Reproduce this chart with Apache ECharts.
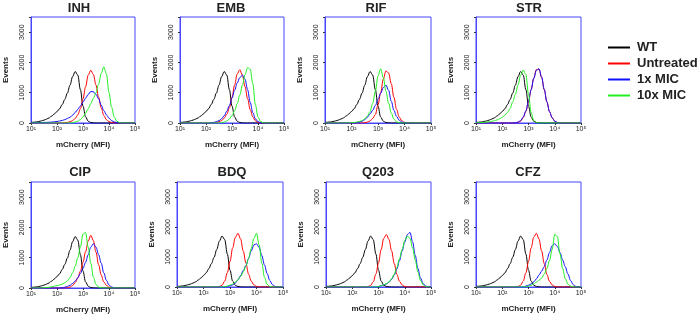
<!DOCTYPE html>
<html>
<head>
<meta charset="utf-8">
<script src="https://cdn.jsdelivr.net/npm/echarts@6/dist/echarts.min.js"></script>
<style>html,body{margin:0;padding:0;background:#fff}#c{width:700px;height:318px}</style>
</head>
<body>
<div id="c"></div>
<script>
// ---- data ----
const binExp = [1.0,1.1,1.2,1.3,1.4,1.5,1.6,1.7,1.8,1.9,
                2.0,2.1,2.2,2.3,2.4,2.5,2.6,2.7,2.8,2.9,
                3.0,3.1,3.2,3.3,3.4,3.5,3.6,3.7,3.8,3.9,
                4.0,4.1,4.2,4.3,4.4,4.5,4.6,4.7,4.8,4.9,
                5.0];
const panels = ['INH','EMB','RIF','STR','CIP','BDQ','Q203','CFZ'];
const seriesNames = ['WT','Untreated','1x MIC','10x MIC'];
const yTicks = [0,1000,2000,3000];
const xTickLabels = ['10¹','10²','10³','10⁴','10⁵'];

const wt = [20,25,35,50,70,95,130,170,230,300, 380,470,610,780,990,1250,1530,1700,1580,1100, 560,200,60,15,5,0,0,0,0,0, 0,0,0,0,0,0,0,0,0,0, 0];

const inhUntreated = [0,0,0,0,0,0,0,0,0,0, 0,0,5,10,20,40,80,150,270,470, 800,1200,1580,1740,1600,1250,850,500,250,110, 45,15,5,0,0,0,0,0,0,0, 0];
const inh1x = [10,10,10,15,15,20,20,25,30,40, 50,65,85,110,150,190,260,350,450,560, 690,820,940,1040,1030,950,800,590,410,270, 160,80,35,15,5,0,0,0,0,0, 0];
const inh10x = [0,0,0,0,0,0,0,0,0,0, 0,0,0,0,0,0,10,30,60,110, 200,330,470,640,820,1000,1280,1640,1850,1620, 1000,520,200,60,15,0,0,0,0,0, 0];

const embUntreated = [0,0,0,0,0,0,0,0,0,0, 0,0,5,10,20,40,80,160,290,500, 850,1250,1620,1760,1580,1200,800,440,200,70, 20,5,0,0,0,0,0,0,0,0, 0];
const emb1x = [0,0,0,0,0,0,0,0,0,0, 0,0,10,20,40,80,140,240,390,580, 820,1080,1320,1500,1580,1450,1100,680,340,140, 45,10,0,0,0,0,0,0,0,0, 0];
const emb10x = [0,0,0,0,0,0,0,0,0,0, 0,0,0,0,0,0,10,30,70,140, 240,400,640,920,1250,1600,1830,1780,1300,600, 200,50,10,0,0,0,0,0,0,0, 0];

const rifUntreated = [0,0,0,0,0,0,0,0,0,0, 0,0,0,0,0,10,30,70,150,280, 600,1000,1450,1720,1650,1300,850,450,200,70, 20,5,0,0,0,0,0,0,0,0, 0];
const rif1x = [0,0,0,0,0,0,0,0,0,0, 0,0,15,30,60,110,190,300,420,580, 780,980,1170,1250,1080,720,420,220,90,30, 10,0,0,0,0,0,0,0,0,0, 0];
const rif10x = [0,0,0,0,0,0,0,0,0,0, 10,15,30,50,80,140,230,380,650,1050, 1550,1790,1500,1050,650,330,130,40,10,0, 0,0,0,0,0,0,0,0,0,0, 0];

const strUntreated = [0,0,0,0,0,0,0,0,0,0, 0,0,0,0,0,0,20,60,180,380, 700,1100,1480,1760,1780,1500,1100,700,380,180, 60,15,0,0,0,0,0,0,0,0, 0];
const str1x = [0,0,0,0,0,0,0,0,0,0, 0,0,0,0,0,10,30,80,200,400, 720,1100,1470,1740,1790,1520,1110,700,370,170, 60,15,0,0,0,0,0,0,0,0, 0];
const str10x = [10,10,15,20,30,40,55,75,100,140, 190,260,350,480,700,950,1250,1580,1750,1600, 950,350,80,15,0,0,0,0,0,0, 0,0,0,0,0,0,0,0,0,0, 0];

const cipUntreated = [0,0,0,0,0,0,0,0,0,0, 0,0,0,0,10,30,80,180,330,560, 850,1200,1550,1740,1560,1180,770,430,200,90, 30,10,0,0,0,0,0,0,0,0, 0];
const cip1x = [0,0,0,0,0,0,0,0,0,0, 0,0,10,25,50,90,150,230,340,480, 650,850,1100,1350,1460,1350,1100,820,500,250, 100,30,10,0,0,0,0,0,0,0, 0];
const cip10x = [0,0,0,0,0,10,15,25,40,60, 80,100,130,170,240,340,500,720,1000,1350, 1780,1830,1350,820,360,120,30,5,0,0, 0,0,0,0,0,0,0,0,0,0, 0];

const bdqUntreated = [0,0,0,0,0,0,0,0,0,0, 0,0,0,0,0,0,15,60,200,480, 850,1300,1650,1790,1600,1200,800,430,200,70, 20,0,0,0,0,0,0,0,0,0, 0];
const bdq1x = [0,0,0,0,0,0,0,0,0,0, 0,0,0,0,0,0,0,0,0,20, 40,70,130,240,380,550,720,950,1200,1400, 1440,1320,1050,740,450,220,80,20,0,0, 0];
const bdq10x = [0,0,0,0,0,0,0,0,0,0, 0,0,0,0,0,0,0,0,10,30, 60,100,160,240,350,500,700,950,1280,1620, 1790,1400,800,330,90,20,0,0,0,0, 0];

const q203Untreated = [0,0,0,0,0,0,0,0,0,0, 0,0,0,0,0,0,15,50,170,430, 800,1250,1620,1750,1580,1200,780,420,190,70, 20,0,0,0,0,0,0,0,0,0, 0];
const q2031x = [0,0,0,0,0,0,0,0,0,0, 0,0,0,0,0,0,0,0,0,0, 15,40,70,100,160,260,400,600,880,1200, 1500,1750,1820,1500,1050,620,300,110,30,5, 0];
const q20310x = [0,0,0,0,0,0,0,0,0,0, 0,0,0,0,0,0,0,0,0,0, 15,40,70,110,170,280,430,650,950,1250, 1550,1700,1620,1300,900,500,220,70,15,0, 0];

const cfzUntreated = [0,0,0,0,0,0,0,0,0,0, 0,0,0,0,0,0,15,60,200,470, 850,1300,1660,1790,1600,1200,780,420,190,70, 20,0,0,0,0,0,0,0,0,0, 0];
const cfz1x = [0,0,0,0,0,0,0,0,0,0, 0,0,0,0,0,0,0,0,0,30, 60,100,170,270,400,530,680,900,1150,1380, 1440,1350,1150,900,680,440,220,80,20,0, 0];
const cfz10x = [0,0,0,0,0,0,0,0,0,0, 0,0,0,0,0,0,0,0,0,10, 30,60,100,160,220,300,430,620,880,1250, 1760,1680,1100,620,280,100,30,5,0,0, 0];

const panelData = [
  [wt, inhUntreated, inh1x, inh10x],
  [wt, embUntreated, emb1x, emb10x],
  [wt, rifUntreated, rif1x, rif10x],
  [wt, strUntreated, str1x, str10x],
  [wt, cipUntreated, cip1x, cip10x],
  [wt, bdqUntreated, bdq1x, bdq10x],
  [wt, q203Untreated, q2031x, q20310x],
  [wt, cfzUntreated, cfz1x, cfz10x]
];

// ---- layout / style ----
const colors = ['#000000','#ff0000','#1010ff','#22ee22'];
const boxColor = '#4646ff';
const gridPos = [
  {left:31, top:17, width:104, height:106},
  {left:180, top:17, width:104, height:106},
  {left:325, top:17, width:106, height:106},
  {left:476, top:17, width:105, height:106},
  {left:31, top:182, width:104, height:106},
  {left:177, top:182, width:106, height:105},
  {left:326, top:182, width:105, height:105},
  {left:476, top:182, width:105, height:105}
];
const titleX = [79, 231, 376, 529, 80, 232, 378, 528];
const titleY = [2, 2, 2, 2, 166, 166, 166, 166];
const FONT = 'Liberation Sans, Arial, sans-serif';

const chart = echarts.init(document.getElementById('c'), null, {renderer:'canvas'});
const grids = [], xAxes = [], yAxes = [], titles = [], series = [];
panels.forEach((p, k) => {
  grids.push(Object.assign({show:true, borderColor:boxColor, borderWidth:1, containLabel:false}, gridPos[k]));
  titles.push({text:p, left:titleX[k], top:titleY[k], textAlign:'center', padding:0,
    textStyle:{fontFamily:FONT, fontSize:13, fontWeight:'bold', color:'#222'}});
  xAxes.push({type:'log', logBase:10, min:10, max:100000, gridIndex:k,
    name:'mCherry (MFI)', nameLocation:'middle', nameGap:18,
    nameTextStyle:{fontFamily:FONT, fontSize:8, fontWeight:'bold', color:'#222'},
    axisLine:{lineStyle:{color:boxColor, width:1}},
    axisTick:{length:2, lineStyle:{color:'#333'}},
    minorTick:{show:false},
    splitLine:{show:false},
    axisLabel:{fontFamily:FONT, fontSize:7, color:'#222', margin:3,
      formatter: v => { const i = Math.round(Math.log10(v)) - 1; return xTickLabels[i] || ''; }}
  });
  yAxes.push({type:'value', min:0, max:3500, interval:1000, gridIndex:k,
    name:'Events', nameLocation:'middle', nameGap:21, nameRotate:90,
    nameTextStyle:{fontFamily:FONT, fontSize:8, fontWeight:'bold', color:'#222'},
    axisLine:{show:true, lineStyle:{color:boxColor, width:1}},
    axisTick:{show:true, length:2, lineStyle:{color:'#333'}},
    splitLine:{show:false},
    axisLabel:{fontFamily:FONT, fontSize:7, color:'#222', rotate:90, margin:5,
      formatter: v => yTicks.includes(v) ? String(v) : ''}
  });
  panelData[k].forEach((arr, j) => {
    series.push({type:'line', name:seriesNames[j], xAxisIndex:k, yAxisIndex:k,
      data: binExp.map((e, i) => [Math.pow(10, e), arr[i]]),
      showSymbol:false, symbol:'none', smooth:0.35, smoothMonotone:'x',
      lineStyle:{width:1, color:colors[j]}, itemStyle:{color:colors[j]},
      animation:false, z:2+j});
  });
});

chart.setOption({
  animation:false,
  color: colors,
  title: titles,
  grid: grids,
  xAxis: xAxes,
  yAxis: yAxes,
  legend: {orient:'vertical', left:608, top:36, padding:[5,0,5,0], icon:'rect', itemWidth:22, itemHeight:2,
    itemGap:3, data: seriesNames,
    textStyle:{fontFamily:FONT, fontSize:13, fontWeight:'bold', color:'#222', padding:[0,0,0,2]}},
  series: series
});
</script>
</body>
</html>
